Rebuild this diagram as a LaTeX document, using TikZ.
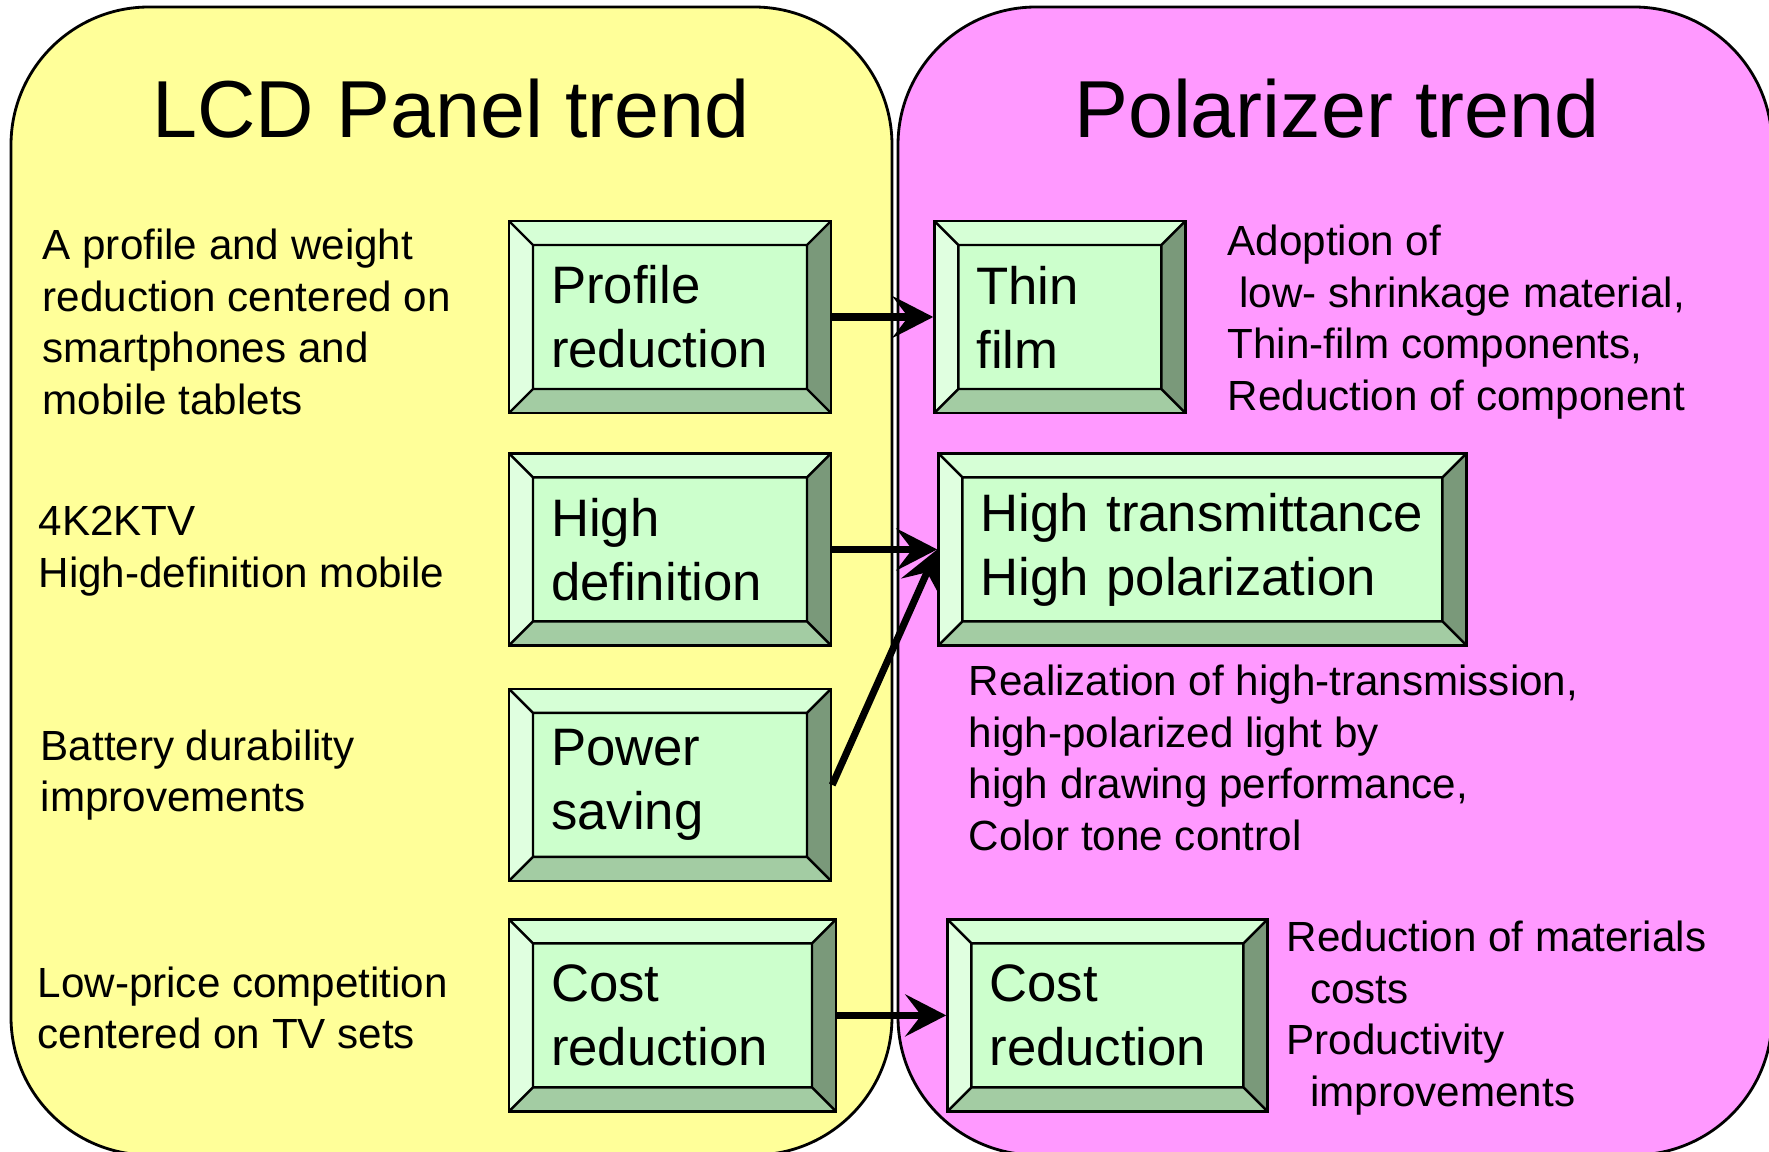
\documentclass[tikz,border=0pt]{standalone}
\usepackage{fontspec}
\setmainfont{Liberation Sans}
\definecolor{lcdyellow}{RGB}{255,255,153}
\definecolor{polpink}{RGB}{255,153,255}
\definecolor{bevface}{RGB}{204,255,204}
\definecolor{bevleft}{RGB}{224,255,224}
\definecolor{bevtop}{RGB}{214,255,214}
\definecolor{bevright}{RGB}{122,153,122}
\definecolor{bevbottom}{RGB}{163,204,163}
\usetikzlibrary{calc}
\usetikzlibrary{positioning}
\usetikzlibrary{arrows.meta}

% the four slanted sides of a green box
\newcommand{\bevelsides}{%
  \coordinate (o1) at (path picture bounding box.north west);
  \coordinate (o2) at (path picture bounding box.north east);
  \coordinate (o3) at (path picture bounding box.south east);
  \coordinate (o4) at (path picture bounding box.south west);
  \coordinate (i1) at ([shift={(0.24,-0.24)}]o1);
  \coordinate (i2) at ([shift={(-0.24,-0.24)}]o2);
  \coordinate (i3) at ([shift={(-0.24,0.24)}]o3);
  \coordinate (i4) at ([shift={(0.24,0.24)}]o4);
  \fill[bevtop] (o1) -- (o2) -- (i2) -- (i1) -- cycle;
  \fill[bevright] (o2) -- (o3) -- (i3) -- (i2) -- cycle;
  \fill[bevbottom] (o3) -- (o4) -- (i4) -- (i3) -- cycle;
  \fill[bevleft] (o4) -- (o1) -- (i1) -- (i4) -- cycle;
  \draw[line width=0.7pt] (o1) -- (i1) (o2) -- (i2) (o3) -- (i3) (o4) -- (i4)
    (i1) rectangle (i3);
}

\tikzset{
  trend/.style={ % Green bevel boxes
    draw, line width=0.7pt, fill=bevface,
    minimum height=1.92cm, inner xsep=0.42cm, inner ysep=0pt,
    align=left, font=\fontsize{15}{18.2}\selectfont,
    path picture={\bevelsides}},
  note/.style={ % Plain texts beside the boxes
    inner sep=0pt, anchor=west, align=left,
    font=\fontsize{12}{14.7}\selectfont},
  title/.style={font=\fontsize{23}{28}\selectfont},
  panel/.style={draw, line width=0.8pt, rounded corners=1.38cm},
  every edge/.style={ % Sets the properties for each arrow
    draw, line width=2pt,
    -{Stealth[length=0.41cm, width=0.42cm, inset=0.16cm]}}}

\begin{document}
\begin{tikzpicture}
  \useasboundingbox (0,0) rectangle (17.69,11.51);
  \clip (0,0) rectangle (17.69,11.51);

  % background panels
  \draw[panel, fill=lcdyellow] (0.11,-0.04) rectangle (8.92,11.44);
  \draw[panel, fill=polpink] (8.98,-0.04) rectangle (17.72,11.44);

  \node[title] (lt) at (4.51,10.42) {LCD Panel trend};
  \node[title] (pt) at (13.37,10.42) {Polarizer trend};

  % LCD side:
  \node[trend, text width=2.38cm] (pr) at (6.70,8.34) {Profile\\reduction};
  \node[trend, text width=2.38cm, below=0.38cm of pr] (hd) {High\\definition};
  \node[trend, text width=2.38cm, below=0.41cm of hd] (ps) {Power\\saving};
  \node[trend, text width=2.43cm, below=0.36cm of ps.south west, anchor=north west] (crl) {Cost\\reduction};

  % Polarizer side:
  \node[trend, text width=1.67cm, right=1.01cm of pr] (tf) {Thin\\film};
  \node[trend, text width=4.44cm, right=1.05cm of hd] (ht) {High transmittance\\High polarization};
  \node[trend, text width=2.36cm, right=1.09cm of crl] (crr) {Cost\\reduction};

  \node[note] (n1) at (0.42,8.29) {A profile and weight\\reduction centered on\\smartphones and\\mobile tablets};
  \node[note] (n2) at (0.38,6.00) {4K2KTV\\High-definition mobile};
  \node[note] (n3) at (0.40,3.76) {Battery durability\\improvements};
  \node[note] (n4) at (0.37,1.43) {Low-price competition\\centered on TV sets};

  \node[note] (m1) at (12.27,8.29) {Adoption of\\\hspace*{0.28em}low- shrinkage material,\\Thin-film components,\\Reduction of component};
  \node[note] (m2) at (9.68,3.93) {Realization of high-transmission,\\high-polarized light by\\high drawing performance,\\Color tone control};
  \node[note] (m3) at (12.86,1.33) {Reduction of materials\\\hspace*{0.56em}costs\\Productivity\\\hspace*{0.56em}improvements};

  \draw (pr) edge (tf);
  \draw (hd) edge (ht);
  \draw (ps.east) edge (ht.west);
  \draw (crl) edge (crr);
\end{tikzpicture}
\end{document}
